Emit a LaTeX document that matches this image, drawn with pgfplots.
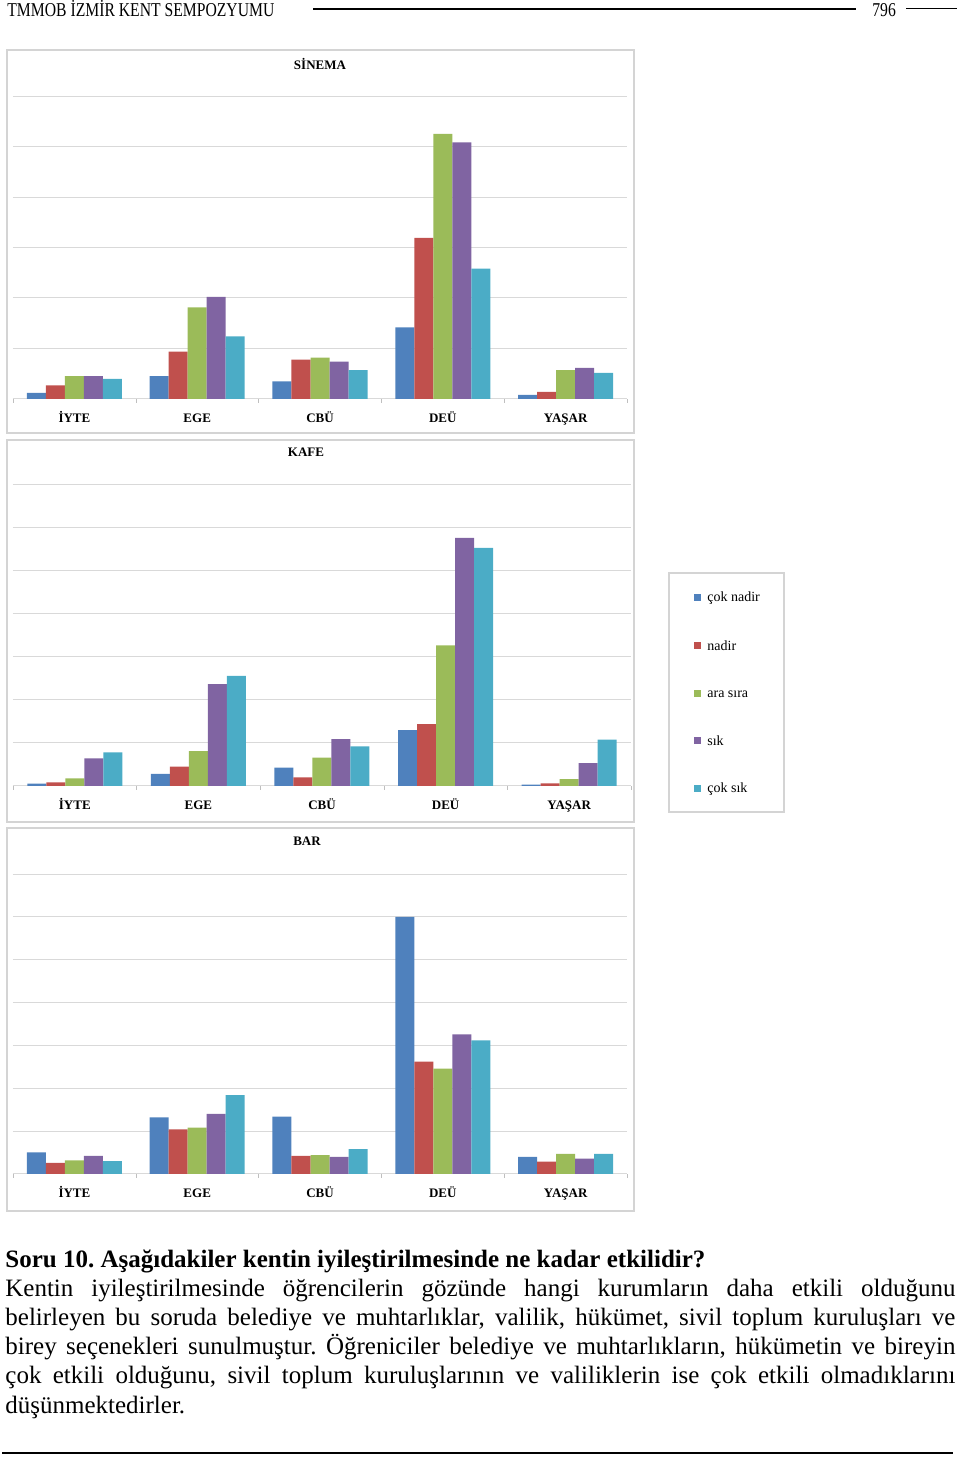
\documentclass[border=0pt]{standalone}
\usepackage{fontspec}
\setmainfont{Liberation Serif}
\newfontfamily\headfont{Liberation Serif}[FakeStretch=0.8]
\usepackage{pgfplots}
\usepackage{pgfplotstable}
\pgfplotsset{compat=1.18}
\frenchspacing

\definecolor{c1}{HTML}{4F81BD}
\definecolor{c2}{HTML}{C0504D}
\definecolor{c3}{HTML}{9BBB59}
\definecolor{c4}{HTML}{8064A2}
\definecolor{c5}{HTML}{4BACC6}
\definecolor{gridc}{HTML}{D9D9D9}
\definecolor{framec}{HTML}{D4D4D4}

% columns: cok nadir, nadir, ara sira, sik, cok sik
\pgfplotstableread{
x a b c d e
0 1.2 2.7 4.55 4.55 3.96
1 4.55 9.37 18.15 20.2 12.4
2 3.5 7.79 8.18 7.39 5.74
3 14.2 31.9 52.5 50.8 25.8
4 0.8 1.4 5.74 6.14 5.15
}\sinema

\pgfplotstableread{
x a b c d e
0 0.54 0.85 1.8 6.4 7.8
1 2.8 4.5 8.1 23.7 25.6
2 4.3 2.0 6.6 10.9 9.2
3 13.0 14.4 32.7 57.7 55.4
4 0.3 0.6 1.6 5.3 10.8
}\kafe

\pgfplotstableread{
x a b c d e
0 5.05 2.6 3.2 4.2 3.0
1 13.2 10.4 10.8 14.0 18.4
2 13.4 4.2 4.4 4.0 5.8
3 60.0 26.2 24.6 32.6 31.2
4 4.0 2.9 4.7 3.6 4.7
}\bartab

\pgfplotsset{
  chart/.style={
    scale only axis, width=307pt, anchor=south west,
    ybar=0pt, bar width=9.5pt,
    xmin=-0.5, xmax=4.5, ymin=0, enlargelimits=false,
    axis line style={draw=none},
    xtick={0,...,4}, xticklabels={İYTE,EGE,CBÜ,DEÜ,YAŞAR},
    minor xtick={-0.5,0.5,...,4.5},
    xtick pos=lower, tick align=outside,
    major x tick style={draw=none},
    minor x tick style={gray!50},
    minor tick length=2pt,
    xticklabel style={font=\bfseries\fontsize{6.5}{7}\selectfont, anchor=base, inner sep=0pt, yshift=-7.5pt},
    yticklabels={}, ytick style={draw=none},
    ymajorgrids, grid style={gridc, line width=0.5pt},
  },
}

\newcommand{\bars}[1]{%
  \addplot[fill=c1, draw=none] table[x=x, y=a] {#1};
  \addplot[fill=c2, draw=none] table[x=x, y=b] {#1};
  \addplot[fill=c3, draw=none] table[x=x, y=c] {#1};
  \addplot[fill=c4, draw=none] table[x=x, y=d] {#1};
  \addplot[fill=c5, draw=none] table[x=x, y=e] {#1};
}

\begin{document}
\begin{tikzpicture}
\useasboundingbox (0,0) rectangle (480pt,729pt);

% page header
\node[anchor=base west, inner sep=0, font=\headfont\fontsize{9.8}{11}\selectfont] at (3.5pt,720.5pt) {TMMOB İZMİR KENT SEMPOZYUMU};
\draw[line width=0.75pt] (156.5pt,724.5pt) -- (428pt,724.5pt);
\node[anchor=base west, inner sep=0, font=\headfont\fontsize{9.8}{11}\selectfont] at (436pt,720.5pt) {796};
\draw[line width=0.5pt] (453pt,724.5pt) -- (478.5pt,724.5pt);

% chart frames
\draw[framec, line width=0.6pt] (3.5pt,704pt) rectangle (317pt,512.5pt);
\draw[framec, line width=0.6pt] (3.5pt,509pt) rectangle (317pt,318pt);
\draw[framec, line width=0.6pt] (3.5pt,315pt) rectangle (317pt,123.5pt);

\begin{axis}[chart, at={(6.5pt,529.5pt)}, height=151.5pt, ymax=60, ytick={0,10,...,60}]
\bars{\sinema}
\end{axis}

\begin{axis}[chart, at={(6.5pt,336pt)}, width=309pt, height=150.5pt, ymax=70, ytick={0,10,...,70}]
\bars{\kafe}
\end{axis}

\begin{axis}[chart, at={(6.5pt,142pt)}, height=150pt, ymax=70, ytick={0,10,...,70}]
\bars{\bartab}
\end{axis}

% chart titles
\begin{scope}[every node/.style={font=\bfseries\fontsize{6.5}{7}\selectfont, inner sep=0}]
\node at (160pt,697pt) {SİNEMA};
\node at (153pt,503pt) {KAFE};
\node at (153.5pt,308.5pt) {BAR};
\end{scope}

% legend
\draw[framec, line width=0.6pt] (334.5pt,442.5pt) rectangle (392pt,323pt);
\foreach \col/\lab/\yy in {c1/çok nadir/430, c2/nadir/406, c3/ara sıra/382, c4/sık/358.5, c5/çok sık/334.5} {
  \fill[\col] (347pt,\yy pt-1.75pt) rectangle ++(3.5pt,3.5pt);
  \node[anchor=west, inner sep=0, font=\fontsize{7}{8}\selectfont] at (353.5pt,\yy pt) {\lab};
}

% text below the charts
\begin{scope}[every node/.style={anchor=base west, inner sep=0, font=\fontsize{12.5}{14.5}\selectfont}]
\node at (2.5pt,95pt) {\bfseries Soru 10. Aşağıdakiler kentin iyileştirilmesinde ne kadar etkilidir?};
\node at (2.5pt,80.5pt) {\makebox[475pt][s]{Kentin iyileştirilmesinde öğrencilerin gözünde hangi kurumların daha etkili olduğunu}};
\node at (2.5pt,66pt) {\makebox[475pt][s]{belirleyen bu soruda belediye ve muhtarlıklar, valilik, hükümet, sivil toplum kuruluşları ve}};
\node at (2.5pt,51.5pt) {\makebox[475pt][s]{birey seçenekleri sunulmuştur. Öğreniciler belediye ve muhtarlıkların, hükümetin ve bireyin}};
\node at (2.5pt,37pt) {\makebox[475pt][s]{çok etkili olduğunu, sivil toplum kuruluşlarının ve valiliklerin ise çok etkili olmadıklarını}};
\node at (2.5pt,22.5pt) {düşünmektedirler.};
\end{scope}
\draw[line width=1pt] (1pt,2.5pt) -- (476.5pt,2.5pt);
\end{tikzpicture}
\end{document}
